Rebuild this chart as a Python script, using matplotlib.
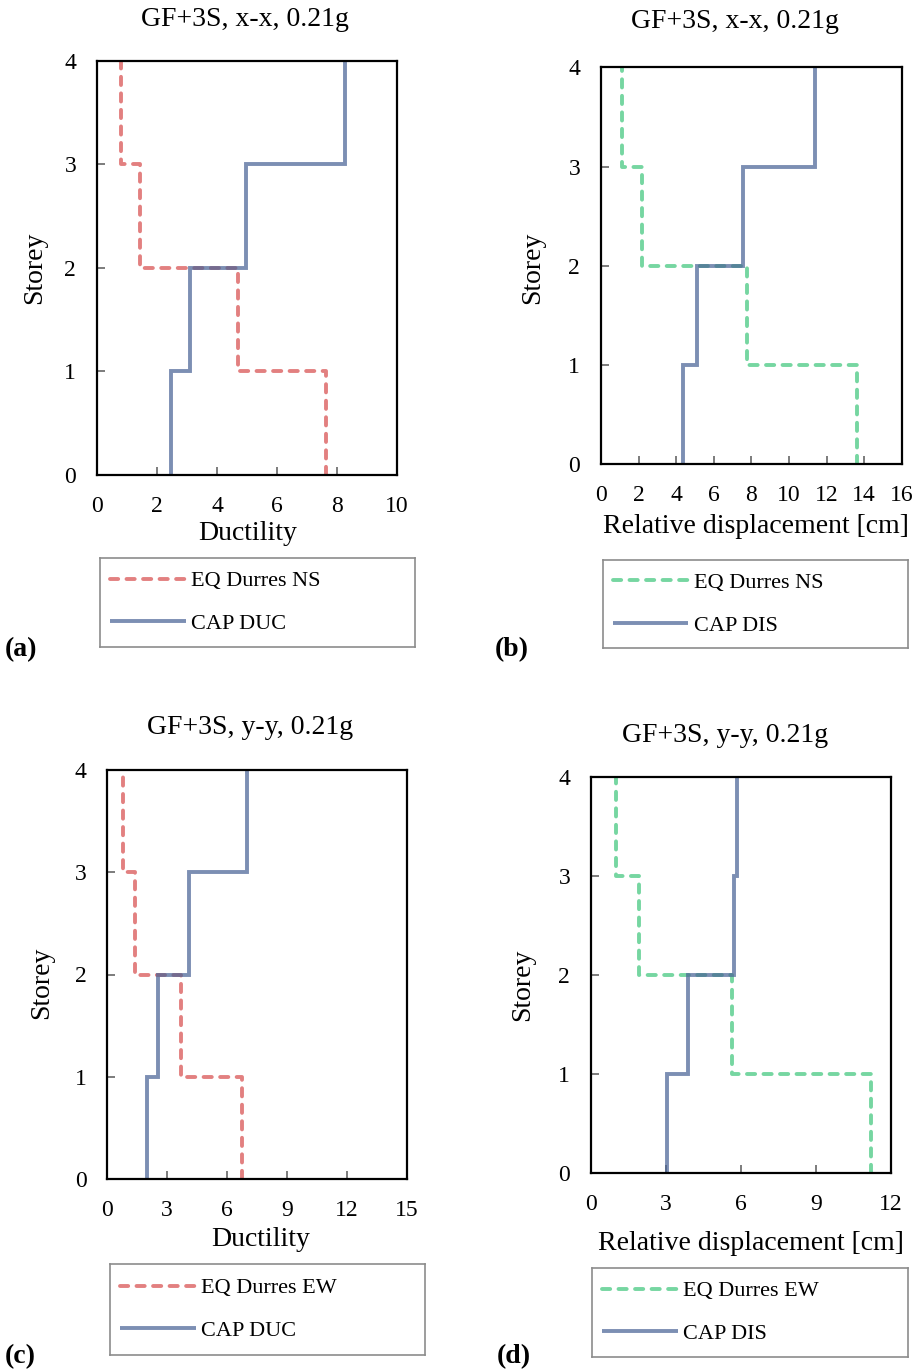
import matplotlib
matplotlib.use("Agg")
import matplotlib.pyplot as plt
import numpy as np

plt.rcParams["font.family"] = ["Liberation Serif", "DejaVu Serif"]

# storey intervals 0-1, 1-2, 2-3, 3-4
storeys = [0, 1, 2, 3, 4]

a_eq = [7.64, 4.71, 1.42, 0.79]
a_cap = [2.45, 3.10, 4.97, 8.27]
b_eq = [13.6, 7.75, 2.16, 1.10]
b_cap = [4.38, 5.12, 7.54, 11.4]
c_eq = [6.73, 3.67, 1.39, 0.77]
c_cap = [2.00, 2.56, 4.11, 6.98]
d_eq = [11.21, 5.66, 1.94, 1.00]
d_cap = [3.06, 3.90, 5.74, 5.83]

RED = "#D74B4B"
GREEN = "#3CC57A"
BLUE = "#4A6496"
W, H = 922, 1371


def _step(values):
    xs = np.repeat(values, 2)
    ys = np.repeat(storeys, 2)[1:-1]
    return xs, ys


def _px(l, r, t, b):
    return [l / W, 1 - b / H, (r - l) / W, (b - t) / H]


def draw_panel(fig, rect, eq, cap, eq_color, eq_label, cap_label, title,
               xlabel, xmax, xstep, title_xy, xlabel_xy, ylabel_xy,
               leg_rect, tag, tag_xy):
    ax = fig.add_axes(_px(*rect))
    x, y = _step(eq)
    ax.plot(x, y, color=eq_color, alpha=0.7, lw=2.8, linestyle=(0, (2.1, 2.15)),
            dash_capstyle="round", solid_joinstyle="miter", label=eq_label)
    x, y = _step(cap)
    ax.plot(x, y, color=BLUE, alpha=0.72, lw=2.8, solid_capstyle="butt",
            solid_joinstyle="miter", label=cap_label)
    ax.set_xlim(0, xmax)
    ax.set_ylim(0, 4)
    ax.set_xticks(np.arange(0, xmax + 0.1, xstep))
    ax.set_yticks(storeys)
    ax.tick_params(direction="in", length=6, width=1.2, color="#666666",
                   labelsize=17)
    ax.tick_params(axis="x", pad=15)
    ax.tick_params(axis="y", pad=15)
    for s in ax.spines.values():
        s.set_linewidth(1.6)
        s.set_color("black")

    fig.text(title_xy[0] / W, 1 - title_xy[1] / H, title, ha="center",
             va="center", fontsize=20)
    fig.text(xlabel_xy[0] / W, 1 - xlabel_xy[1] / H, xlabel, ha="center",
             va="center", fontsize=20)
    fig.text(ylabel_xy[0] / W, 1 - ylabel_xy[1] / H, "Storey", ha="center",
             va="center", rotation=90, fontsize=20)

    lax = fig.add_axes(_px(*leg_rect))
    lax.set_xticks([])
    lax.set_yticks([])
    for s in lax.spines.values():
        s.set_color("#8c8c8c")
        s.set_linewidth(1.2)
    handles, labels = ax.get_legend_handles_labels()
    lax.legend(handles, labels, loc="center left", frameon=False, fontsize=16,
               handlelength=3.4, handletextpad=0.25, labelspacing=1.0,
               borderpad=0, borderaxespad=0, bbox_to_anchor=(0.032, 0.5))

    fig.text(tag_xy[0] / W, 1 - tag_xy[1] / H, tag, ha="left", va="center",
             fontsize=20, fontweight="bold")


fig = plt.figure(figsize=(W / 100, H / 100), dpi=100)

draw_panel(fig, (97, 397, 60.7, 475), a_eq, a_cap, RED, "EQ Durres NS",
           "CAP DUC", "GF+3S, x-x, 0.21g", "Ductility", 10, 2,
           (245, 20), (248, 533), (35, 268), (100, 415, 558, 647), "(a)", (5, 650))
draw_panel(fig, (601, 901.7, 67.3, 464.3), b_eq, b_cap, GREEN, "EQ Durres NS",
           "CAP DIS", "GF+3S, x-x, 0.21g", "Relative displacement [cm]", 16, 2,
           (735, 22), (756, 526), (533, 268), (603, 908, 560, 648), "(b)", (495, 650))
draw_panel(fig, (107.3, 406.7, 770, 1179), c_eq, c_cap, RED, "EQ Durres EW",
           "CAP DUC", "GF+3S, y-y, 0.21g", "Ductility", 15, 3,
           (250, 728), (261, 1240), (42, 983), (110, 425, 1264, 1355), "(c)", (5, 1357))
draw_panel(fig, (591, 890.7, 776.7, 1173.3), d_eq, d_cap, GREEN, "EQ Durres EW",
           "CAP DIS", "GF+3S, y-y, 0.21g", "Relative displacement [cm]", 12, 3,
           (725, 735), (751, 1244), (523, 985), (592, 908, 1268, 1357), "(d)", (497, 1357))

fig.savefig("out.png", dpi=100)
